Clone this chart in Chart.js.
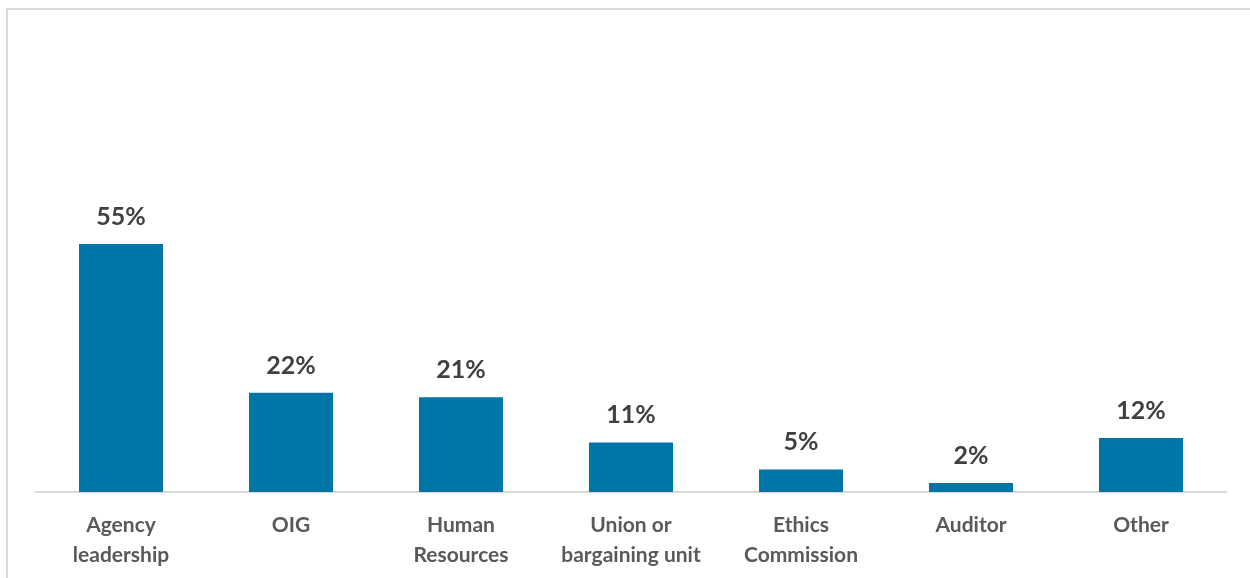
<!DOCTYPE html>
<html>
<head>
<meta charset="utf-8">
<script src="https://cdn.jsdelivr.net/npm/chart.js@4"></script>
<style>
  body { margin: 0; background: #fff; }
  #wrap { position: relative; width: 1250px; height: 578px; }
  #frame { position: absolute; left: 6px; top: 8px; right: -4px; bottom: -4px;
           border-left: 2px solid #d9d9d9; border-top: 2px solid #d9d9d9; }
  canvas { position: absolute; left: 0; top: 0; }
</style>
</head>
<body>
<div id="wrap">
  <div id="frame"></div>
  <canvas id="myChart" width="1250" height="578"></canvas>
</div>
<script>
const categories = [
  ["Agency", "leadership"],
  "OIG",
  ["Human", "Resources"],
  ["Union or", "bargaining unit"],
  ["Ethics", "Commission"],
  "Auditor",
  "Other"
];
const percentValues = [55, 22, 21, 11, 5, 2, 12];

// draws the % labels above each bar
const barLabels = {
  id: "barLabels",
  afterDatasetsDraw(chart) {
    const ctx = chart.ctx;
    const meta = chart.getDatasetMeta(0);
    ctx.save();
    ctx.font = "bold 25px Lato";
    ctx.fillStyle = "#404040";
    ctx.textAlign = "center";
    ctx.textBaseline = "alphabetic";
    meta.data.forEach((bar, i) => {
      ctx.fillText(percentValues[i] + "%", bar.x, bar.y - 19);
    });
    ctx.restore();
  }
};

const ctx = document.getElementById("myChart").getContext("2d");
new Chart(ctx, {
  type: "bar",
  data: {
    labels: categories,
    datasets: [{
      data: percentValues,
      backgroundColor: "#0076a8",
      borderWidth: 0,
      barPercentage: 0.494,
      categoryPercentage: 1
    }]
  },
  options: {
    responsive: false,
    animation: false,
    layout: { padding: { left: 36, right: 24, top: 41, bottom: 0 } },
    plugins: { legend: { display: false }, tooltip: { enabled: false } },
    scales: {
      y: { display: false, min: 0, max: 100 },
      x: {
        grid: { display: false },
        border: { color: "#d9d9d9", width: 2 },
        ticks: {
          color: "#595959",
          font: { family: "Lato", weight: "bold", size: 21, lineHeight: 1.43 },
          padding: 10,
          maxRotation: 0,
          autoSkip: false
        },
        afterFit(scale) { scale.height = 86; }
      }
    }
  },
  plugins: [barLabels]
});
</script>
</body>
</html>
